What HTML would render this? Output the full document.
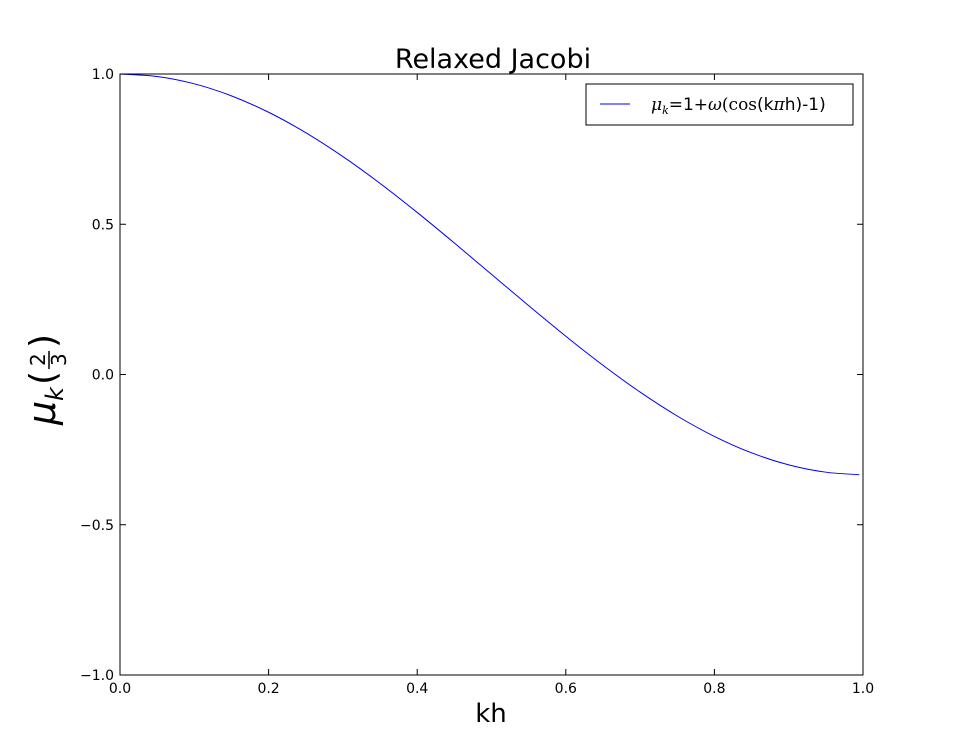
<!DOCTYPE html>
<html><head><meta charset="utf-8"><style>
body{margin:0;background:#fff;}
svg text{font-family:"DejaVu Sans","Liberation Sans",sans-serif;}
</style></head><body>
<svg id="chart" width="960" height="751" xmlns="http://www.w3.org/2000/svg">
<rect width="960" height="751" fill="#fff"/>
<text x="493" y="68" font-size="27" text-anchor="middle">Relaxed Jacobi</text>
<g id="ticks"></g>
<path id="curve" fill="none" stroke="#0000ff" stroke-width="1"/>
<rect x="120" y="74" width="743" height="601" fill="none" stroke="#000" stroke-width="1"/>
<text x="491" y="722" font-size="26" text-anchor="middle">kh</text>
<g transform="translate(55,375) rotate(-90)">
<text x="-50" y="0" font-size="38" font-family="DejaVu Serif,serif" font-style="italic">μ</text>
<text x="-26" y="8" font-size="24" font-family="DejaVu Serif,serif" font-style="italic">k</text>
<text x="-10" y="0" font-size="36" font-family="DejaVu Serif,serif">(</text>
<text x="9" y="-10" font-size="20" font-family="DejaVu Serif,serif">2</text>
<line x1="6" y1="-6" x2="24" y2="-6" stroke="#000" stroke-width="1.5"/>
<text x="9" y="11" font-size="20" font-family="DejaVu Serif,serif">3</text>
<text x="27" y="0" font-size="36" font-family="DejaVu Serif,serif">)</text>
</g>
<g>
<rect x="586" y="84" width="267" height="41" fill="#fff" stroke="#000" stroke-width="1"/>
<line x1="600" y1="104" x2="630" y2="104" stroke="#0000ff" stroke-width="1"/>
<text x="651" y="110" font-size="17"><tspan font-family="DejaVu Serif,serif" font-style="italic">μ</tspan><tspan font-size="11" dy="4" font-family="DejaVu Serif,serif" font-style="italic">k</tspan><tspan dy="-4">=1+</tspan><tspan font-family="DejaVu Serif,serif" font-style="italic">ω</tspan><tspan font-family="DejaVu Serif,serif">(cos</tspan><tspan>(k</tspan><tspan font-family="DejaVu Serif,serif" font-style="italic">π</tspan><tspan>h)-1)</tspan></text>
</g>
</svg>
<script>
const khValues=[0,0.05,0.1,0.15,0.2,0.25,0.3,0.35,0.4,0.45,0.5,0.55,0.6,0.65,0.7,0.75,0.8,0.85,0.9,0.95,0.995];
const muValues=[1,0.9918,0.9674,0.9273,0.8727,0.8047,0.7252,0.6360,0.5393,0.4376,0.3333,0.2291,0.1273,0.0307,-0.0585,-0.1381,-0.2060,-0.2607,-0.3007,-0.3251,-0.3333];
const xTicks=[0,0.2,0.4,0.6,0.8,1.0];
const xTickLabels=["0.0","0.2","0.4","0.6","0.8","1.0"];
const yTicks=[-1,-0.5,0,0.5,1];
const yTickLabels=["−1.0","−0.5","0.0","0.5","1.0"];
const X0=120,X1=863,Y0=675,Y1=74;
const sx=v=>X0+(v-0)/(1-0)*(X1-X0);
const sy=v=>Y0-(v+1)/2*(Y0-Y1);
const NS="http://www.w3.org/2000/svg";
const pts=khValues.map((k,i)=>[sx(k),sy(muValues[i])]);
let d="M"+pts[0][0].toFixed(2)+","+pts[0][1].toFixed(2);
for(let i=0;i<pts.length-1;i++){
  const p0=pts[Math.max(0,i-1)],p1=pts[i],p2=pts[i+1],p3=pts[Math.min(pts.length-1,i+2)];
  const c1=[p1[0]+(p2[0]-p0[0])/6,p1[1]+(p2[1]-p0[1])/6];
  const c2=[p2[0]-(p3[0]-p1[0])/6,p2[1]-(p3[1]-p1[1])/6];
  d+="C"+c1.map(v=>v.toFixed(2)).join(",")+" "+c2.map(v=>v.toFixed(2)).join(",")+" "+p2.map(v=>v.toFixed(2)).join(",");
}
document.getElementById("curve").setAttribute("d",d);
const g=document.getElementById("ticks");
function mk(tag,attrs){const e=document.createElementNS(NS,tag);for(const k in attrs)e.setAttribute(k,attrs[k]);g.appendChild(e);return e;}
xTicks.forEach((t,i)=>{
  const x=sx(t);
  mk("line",{x1:x,y1:Y0,x2:x,y2:Y0-6,stroke:"#000"});
  mk("line",{x1:x,y1:Y1,x2:x,y2:Y1+6,stroke:"#000"});
  const tx=mk("text",{x:x,y:Y0+18,"font-size":"14","text-anchor":"middle"});
  tx.textContent=xTickLabels[i];
  
  
});
yTicks.forEach((t,i)=>{
  const y=sy(t);
  mk("line",{x1:X0,y1:y,x2:X0+6,y2:y,stroke:"#000"});
  mk("line",{x1:X1,y1:y,x2:X1-6,y2:y,stroke:"#000"});
  const tx=mk("text",{x:X0-6,y:y+5,"font-size":"14","text-anchor":"end"});
  tx.textContent=yTickLabels[i];
  
  
});
</script>
</body></html>
